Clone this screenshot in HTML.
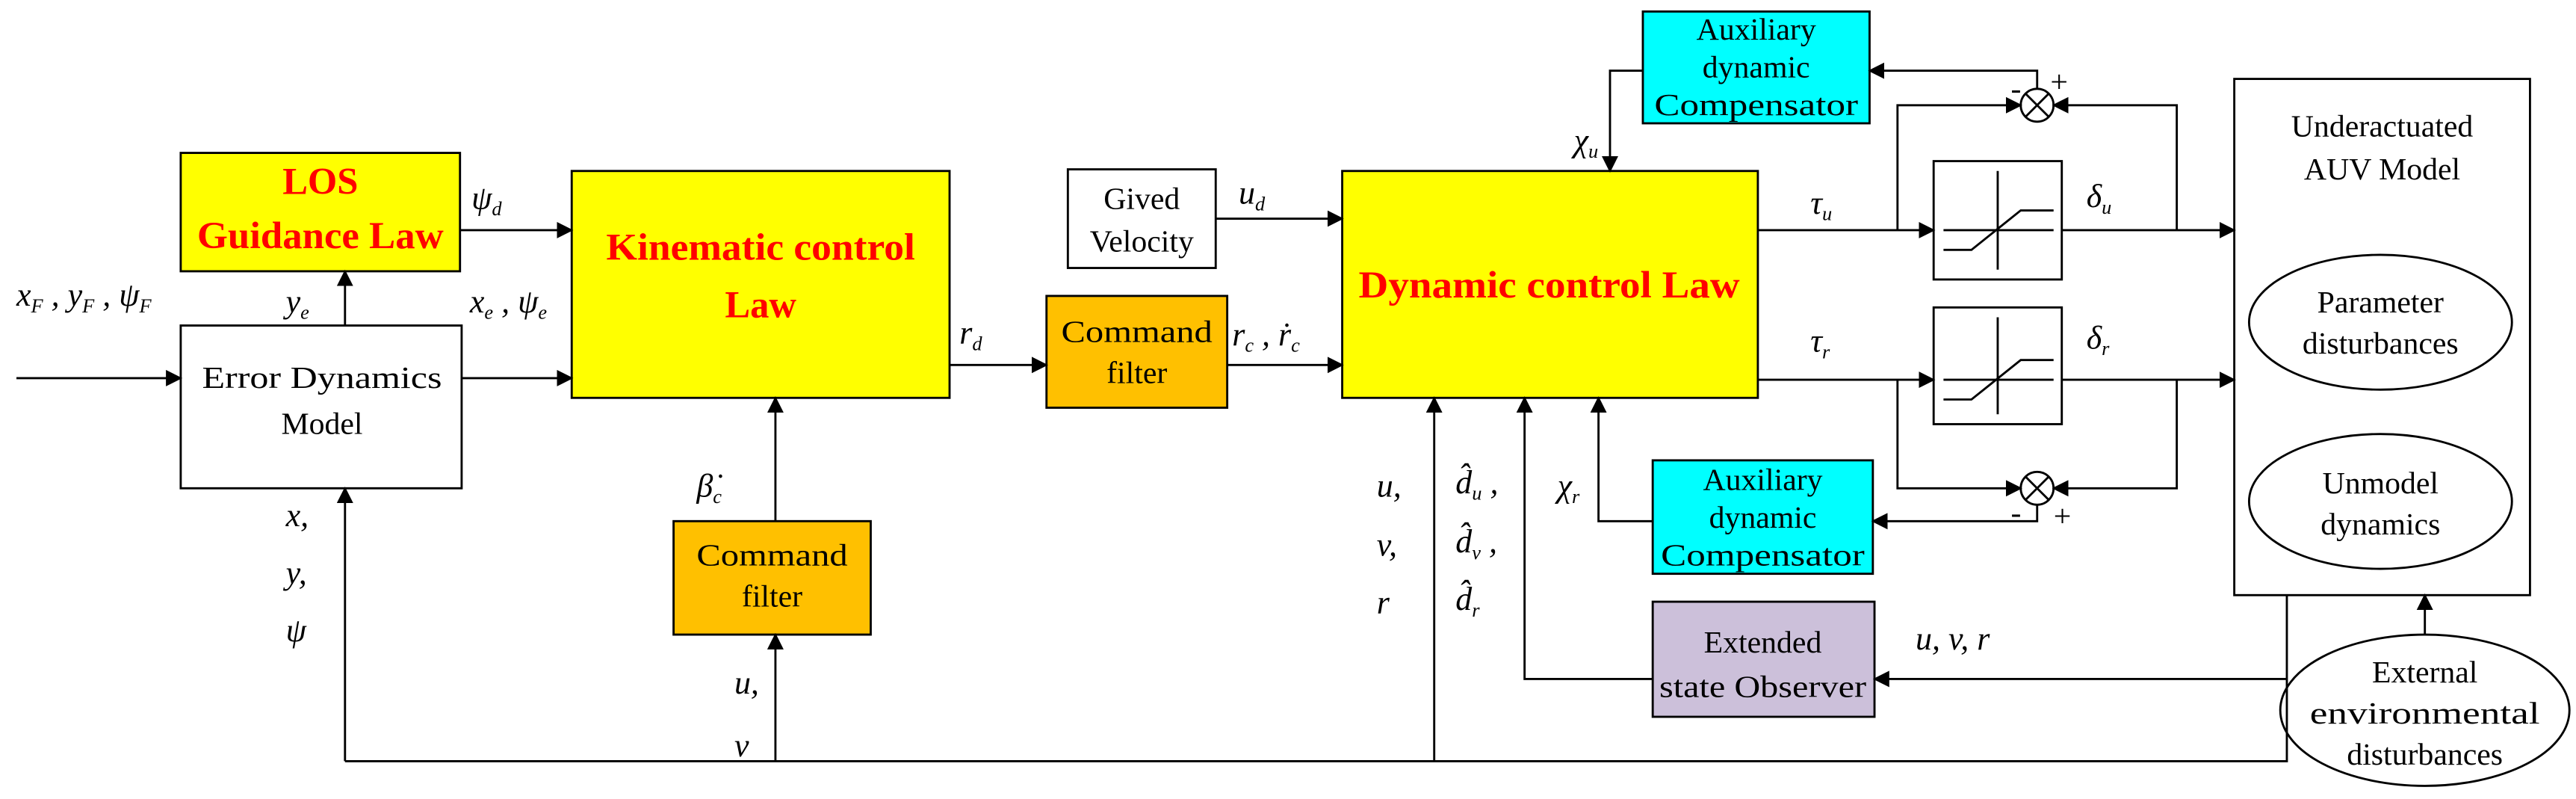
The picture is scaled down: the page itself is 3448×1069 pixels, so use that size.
<!DOCTYPE html>
<html><head><meta charset="utf-8"><style>
html,body{margin:0;padding:0;background:#fff}
svg{display:block}
text{font-family:"Liberation Serif",serif}
.b{font-size:19px;fill:#000}
.r{font-size:23px;fill:#f00;font-weight:bold}
.i{font-size:20px;font-style:italic;fill:#000}
</style></head><body>
<svg width="3448" height="1069" viewBox="0 0 1568 486" preserveAspectRatio="none" xmlns="http://www.w3.org/2000/svg">
<defs><marker id="a" markerWidth="10" markerHeight="10" refX="9" refY="5" orient="auto" markerUnits="userSpaceOnUse"><path d="M0,0 L10,5 L0,10 Z" fill="#000"/></marker></defs>
<g stroke="#000" stroke-width="1.3" fill="none">
<rect x="110" y="93" width="170" height="72" fill="#ff0"/>
<rect x="110" y="198" width="171" height="99" fill="#fff"/>
<rect x="348" y="104" width="230" height="138" fill="#ff0"/>
<rect x="650" y="103" width="90" height="60" fill="#fff"/>
<rect x="637" y="180" width="110" height="68" fill="#ffc000"/>
<rect x="817" y="104" width="253" height="138" fill="#ff0"/>
<rect x="1000" y="7" width="138" height="68" fill="#0ff"/>
<rect x="1006" y="280" width="134" height="69" fill="#0ff"/>
<rect x="1006" y="366" width="135" height="70" fill="#ccc0da"/>
<rect x="410" y="317" width="120" height="69" fill="#ffc000"/>
<rect x="1360" y="48" width="180" height="314" fill="#fff"/>
<rect x="1177" y="98" width="78" height="72" fill="#fff"/>
<rect x="1177" y="187" width="78" height="71" fill="#fff"/>
<ellipse cx="1449" cy="196" rx="80" ry="41"/>
<ellipse cx="1449" cy="305" rx="80" ry="41"/>
<ellipse cx="1476" cy="432" rx="88" ry="46" fill="#fff"/>
<path d="M1183,140 H1250 M1216,104 V164 M1183,152 H1200 L1230,128 H1250"/>
<path d="M1183,231 H1250 M1216,193 V252 M1183,243 H1200 L1230,219 H1250"/>
<circle cx="1240" cy="64" r="10" fill="#fff"/>
<path d="M1233,57 L1247,71 M1247,57 L1233,71"/>
<circle cx="1240" cy="297" r="10" fill="#fff"/>
<path d="M1233,290 L1247,304 M1247,290 L1233,304"/>
<path d="M10,230 H110" marker-end="url(#a)"/>
<path d="M210,198 V165" marker-end="url(#a)"/>
<path d="M280,140 H348" marker-end="url(#a)"/>
<path d="M281,230 H348" marker-end="url(#a)"/>
<path d="M578,222 H637" marker-end="url(#a)"/>
<path d="M740,133 H817" marker-end="url(#a)"/>
<path d="M747,222 H817" marker-end="url(#a)"/>
<path d="M472,317 V242" marker-end="url(#a)"/>
<path d="M472,463 V386" marker-end="url(#a)"/>
<path d="M210,463 V297" marker-end="url(#a)"/>
<path d="M210,463 H1392 V362"/>
<path d="M873,463 V242" marker-end="url(#a)"/>
<path d="M1392,413 H1141" marker-end="url(#a)"/>
<path d="M1006,413 H928 V242" marker-end="url(#a)"/>
<path d="M1006,317 H973 V242" marker-end="url(#a)"/>
<path d="M1000,43 H980 V104" marker-end="url(#a)"/>
<path d="M1070,140 H1177" marker-end="url(#a)"/>
<path d="M1255,140 H1360" marker-end="url(#a)"/>
<path d="M1070,231 H1177" marker-end="url(#a)"/>
<path d="M1255,231 H1360" marker-end="url(#a)"/>
<path d="M1155,140 V64 H1230" marker-end="url(#a)"/>
<path d="M1325,140 V64 H1250" marker-end="url(#a)"/>
<path d="M1240,54 V43 H1138" marker-end="url(#a)"/>
<path d="M1155,231 V297 H1230" marker-end="url(#a)"/>
<path d="M1325,231 V297 H1250" marker-end="url(#a)"/>
<path d="M1240,307 V317 H1140" marker-end="url(#a)"/>
<path d="M1476,386 V362" marker-end="url(#a)"/>
</g>
<g text-anchor="middle">
<text class="r" x="195" y="118">LOS</text>
<text class="r" x="195" y="151" textLength="150" lengthAdjust="spacingAndGlyphs">Guidance Law</text>
<text class="b" x="196" y="236" textLength="146" lengthAdjust="spacingAndGlyphs">Error Dynamics</text>
<text class="b" x="196" y="264">Model</text>
<text class="r" x="463" y="158" textLength="188" lengthAdjust="spacingAndGlyphs">Kinematic control</text>
<text class="r" x="463" y="193">Law</text>
<text class="b" x="695" y="127">Gived</text>
<text class="b" x="695" y="153">Velocity</text>
<text class="b" x="692" y="208" textLength="92" lengthAdjust="spacingAndGlyphs">Command</text>
<text class="b" x="692" y="233">filter</text>
<text class="b" x="470" y="344" textLength="92" lengthAdjust="spacingAndGlyphs">Command</text>
<text class="b" x="470" y="369">filter</text>
<text class="r" x="943" y="181" textLength="232" lengthAdjust="spacingAndGlyphs">Dynamic control Law</text>
<text class="b" x="1069" y="24">Auxiliary</text>
<text class="b" x="1069" y="47">dynamic</text>
<text class="b" x="1069" y="70" textLength="124" lengthAdjust="spacingAndGlyphs">Compensator</text>
<text class="b" x="1073" y="298">Auxiliary</text>
<text class="b" x="1073" y="321">dynamic</text>
<text class="b" x="1073" y="344" textLength="124" lengthAdjust="spacingAndGlyphs">Compensator</text>
<text class="b" x="1073" y="397">Extended</text>
<text class="b" x="1073" y="424" textLength="126" lengthAdjust="spacingAndGlyphs">state Observer</text>
<text class="b" x="1450" y="83">Underactuated</text>
<text class="b" x="1450" y="109">AUV Model</text>
<text class="b" x="1449" y="190">Parameter</text>
<text class="b" x="1449" y="215">disturbances</text>
<text class="b" x="1449" y="300">Unmodel</text>
<text class="b" x="1449" y="325">dynamics</text>
<text class="b" x="1476" y="415">External</text>
<text class="b" x="1476" y="440" textLength="140" lengthAdjust="spacingAndGlyphs">environmental</text>
<text class="b" x="1476" y="465">disturbances</text>
</g>
<g>
<text class="i" x="10" y="186">x<tspan font-size="12" dy="4">F</tspan><tspan dy="-4"> , y</tspan><tspan font-size="12" dy="4">F</tspan><tspan dy="-4"> , ψ</tspan><tspan font-size="12" dy="4">F</tspan></text>
<text class="i" x="174" y="190">y<tspan font-size="12" dy="4">e</tspan></text>
<text class="i" x="287" y="127">ψ<tspan font-size="12" dy="4">d</tspan></text>
<text class="i" x="286" y="190">x<tspan font-size="12" dy="4">e</tspan><tspan dy="-4"> , ψ</tspan><tspan font-size="12" dy="4">e</tspan></text>
<text class="i" x="174" y="320">x,</text>
<text class="i" x="174" y="355">y,</text>
<text class="i" x="174" y="390">ψ</text>
<text class="i" x="424" y="302">β̇<tspan font-size="12" dy="4">c</tspan></text>
<text class="i" x="447" y="422">u,</text>
<text class="i" x="447" y="460">v</text>
<text class="i" x="584" y="209">r<tspan font-size="12" dy="4">d</tspan></text>
<text class="i" x="750" y="210">r<tspan font-size="12" dy="4">c</tspan><tspan dy="-4"> , ṙ</tspan><tspan font-size="12" dy="4">c</tspan></text>
<text class="i" x="754" y="124">u<tspan font-size="12" dy="4">d</tspan></text>
<text class="i" x="958" y="92">χ<tspan font-size="12" dy="4">u</tspan></text>
<text class="i" x="838" y="302">u,</text>
<text class="i" x="838" y="338">v,</text>
<text class="i" x="838" y="373">r</text>
<text class="i" x="886" y="300">d̂<tspan font-size="12" dy="4">u</tspan><tspan dy="-4"> ,</tspan></text>
<text class="i" x="886" y="336">d̂<tspan font-size="12" dy="4">v</tspan><tspan dy="-4"> ,</tspan></text>
<text class="i" x="886" y="371">d̂<tspan font-size="12" dy="4">r</tspan></text>
<text class="i" x="948" y="302">χ<tspan font-size="12" dy="4">r</tspan></text>
<text class="i" x="1102" y="130">τ<tspan font-size="12" dy="4">u</tspan></text>
<text class="i" x="1102" y="214">τ<tspan font-size="12" dy="4">r</tspan></text>
<text class="i" x="1270" y="126">δ<tspan font-size="12" dy="4">u</tspan></text>
<text class="i" x="1270" y="212">δ<tspan font-size="12" dy="4">r</tspan></text>
<text class="i" x="1166" y="395">u, v, r</text>
<text class="b" x="1224" y="60">-</text>
<text class="b" x="1248" y="56">+</text>
<text class="b" x="1224" y="318">-</text>
<text class="b" x="1250" y="320">+</text>
</g>
</svg>
</body></html>
